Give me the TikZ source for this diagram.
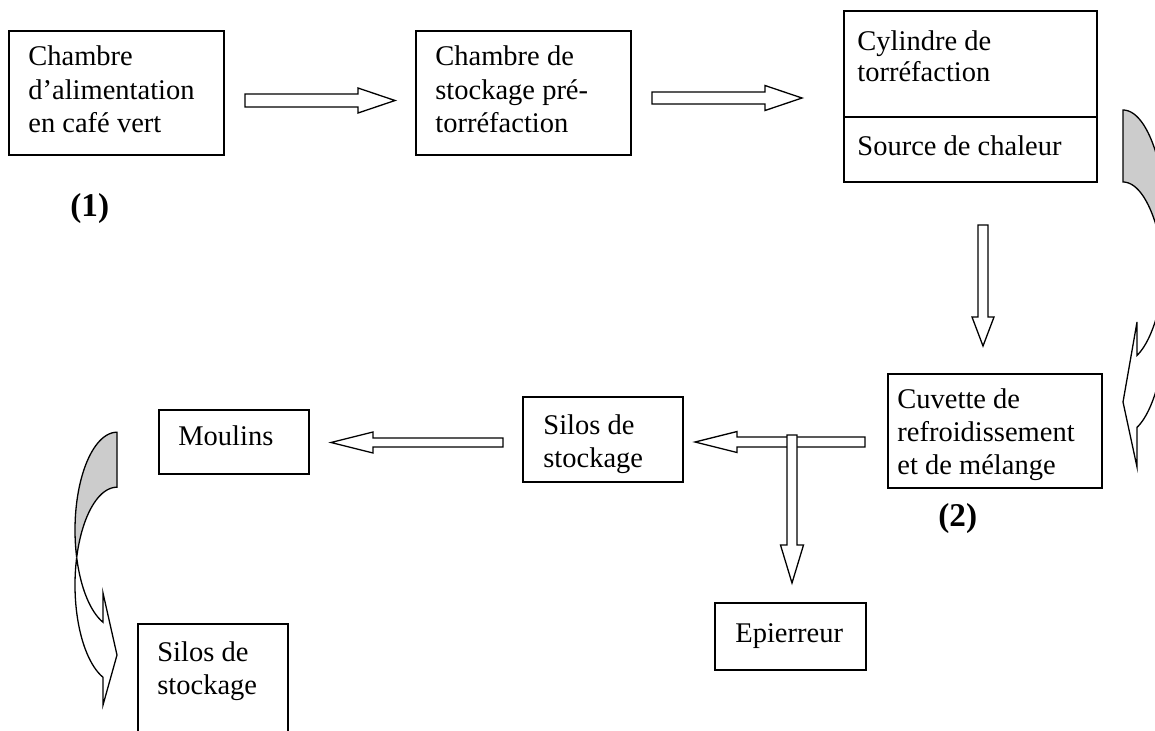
\documentclass[tikz,border=0pt]{standalone}
\usepackage{fontspec}
\setmainfont{Liberation Serif}
\usetikzlibrary{fit}
\newcommand{\blockarrow}[7]{%
  \coordinate (#1) at #2;
  \draw[blk, shift={(#1)}, rotate=#3] (0,-#5) -- (#4-#7,-#5) -- (#4-#7,-#6) -- (#4,0) -- (#4-#7,#6) -- (#4-#7,#5) -- (0,#5) -- cycle;}
\begin{document}
\begin{tikzpicture}[x=0.5pt,y=-0.5pt,
  box/.style={draw, line width=1pt, inner sep=0pt},
  txt/.style={inner sep=0pt, anchor=base west, font=\fontsize{14.25}{16.5}\selectfont},
  lbl/.style={inner sep=0pt, anchor=base west, font=\fontsize{16.6}{19}\selectfont\bfseries},
  blk/.style={draw, line width=0.65pt, fill=white, line join=miter},
  curv/.style={draw, line width=0.65pt, line join=miter},
]
\useasboundingbox (0,0) rectangle (1155,730);
\clip (0,0) rectangle (1155,730);

% boxes
\node[box, fit={(9,31) (224,155)}] (b1) {};
\node[box, fit={(416,31) (631,155)}] (b2) {};
\node[box, fit={(844,11) (1097,117)}] (b3a) {};
\node[box, fit={(844,117) (1097,182)}] (b3b) {};
\node[box, fit={(888,374) (1102,488)}] (b4) {};
\node[box, fit={(523,397) (683,482)}] (b5) {};
\node[box, fit={(159,410) (309,474)}] (b6) {};
\node[box, fit={(138,624) (288,770)}] (b7) {};
\node[box, fit={(715,603) (866,670)}] (b8) {};

% texts
\node[txt] (t1a) at (28,65) {Chambre};
\node[txt] (t1b) at (28,99) {d’alimentation};
\node[txt] (t1c) at (28,132) {en café vert};
\node[txt] (t2a) at (435,65) {Chambre de};
\node[txt] (t2b) at (435,99) {stockage pré-};
\node[txt] (t2c) at (435,132) {torréfaction};
\node[txt] (t3a) at (857,50) {Cylindre de};
\node[txt] (t3b) at (857,81) {torréfaction};
\node[txt] (t3c) at (857,155) {Source de chaleur};
\node[txt] (t4a) at (897,408) {Cuvette de};
\node[txt] (t4b) at (897,441) {refroidissement};
\node[txt] (t4c) at (897,474) {et de mélange};
\node[txt] (t5a) at (543,434) {Silos de};
\node[txt] (t5b) at (543,467) {stockage};
\node[txt] (t6) at (178,445) {Moulins};
\node[txt] (t7a) at (157,661) {Silos de};
\node[txt] (t7b) at (157,694) {stockage};
\node[txt] (t8) at (735,642) {Epierreur};
\node[lbl] (l1) at (70,216) {(1)};
\node[lbl] (l2) at (938,526) {(2)};

% block arrows
\blockarrow{a1}{(245,100.5)}{0}{150}{6.5}{12.5}{37}
\blockarrow{a2}{(652,98)}{0}{150}{6}{12.5}{37}
\blockarrow{a3}{(983,225)}{-90}{121}{5}{11}{29}
\blockarrow{a4}{(865,442)}{180}{170}{5}{10.5}{42}
\blockarrow{a5}{(792,435)}{-90}{148}{5}{11.5}{38}
\blockarrow{a6}{(503,442.5)}{180}{172}{4.5}{10.5}{42}

% curved arrow, left
\draw[curv, fill=black!20] plot[domain=270:163.7, samples=50] ({117+42*cos(\x)},{530+97.8*sin(\x)})
  -- plot[domain=196.3:270, samples=50] ({117+42*cos(\x)},{585+97.8*sin(\x)}) -- cycle;
\draw[curv, fill=white] plot[domain=109.5:163.7, samples=50] ({117+42*cos(\x)},{530+97.8*sin(\x)})
  -- plot[domain=196.3:109.5, samples=60] ({117+42*cos(\x)},{585+97.8*sin(\x)})
  -- (103,705) -- (117,655) -- (103,593) -- cycle;

% curved arrow, right
\draw[curv, fill=black!20] plot[domain=-90:16.6, samples=60] ({1123+43.8*cos(\x)},{236+126*sin(\x)})
  -- plot[domain=-16.6:-90, samples=60] ({1123+43.8*cos(\x)},{308+126*sin(\x)}) -- cycle;
\draw[curv, fill=white] plot[domain=71.4:16.6, samples=50] ({1123+43.8*cos(\x)},{236+126*sin(\x)})
  -- plot[domain=-16.6:71.4, samples=60] ({1123+43.8*cos(\x)},{308+126*sin(\x)})
  -- (1137,467) -- (1123,402) -- (1137,322) -- cycle;
\end{tikzpicture}
\end{document}
